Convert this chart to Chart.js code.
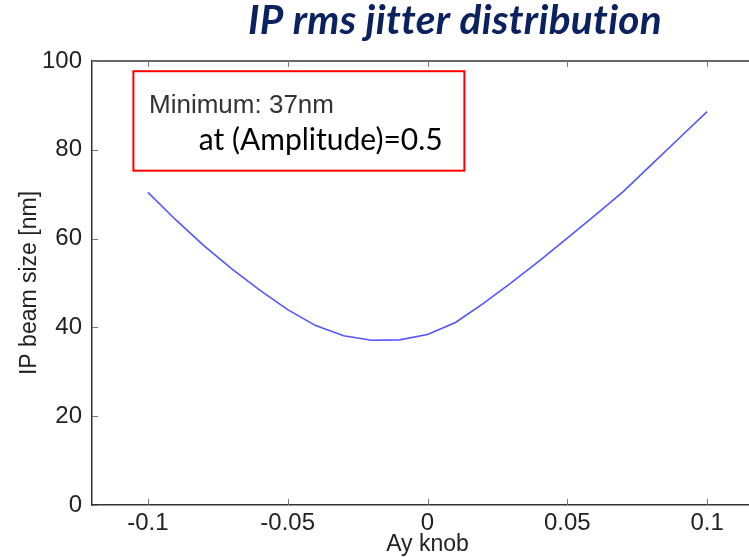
<!DOCTYPE html>
<html>
<head>
<meta charset="utf-8">
<script src="https://cdn.jsdelivr.net/npm/chart.js@4"></script>
<style>
  html, body { margin: 0; padding: 0; background: #fff; overflow: hidden; }
  canvas { display: block; }
</style>
</head>
<body>
<canvas id="jitterChart" width="770" height="557"></canvas>
<script>
// Ay knob setting -> IP beam size scan
const knobValues = [-0.10, -0.09, -0.08, -0.07, -0.06, -0.05, -0.04, -0.03, -0.02, -0.01,
                    0.00, 0.01, 0.02, 0.03, 0.04, 0.05, 0.06, 0.07, 0.08, 0.09, 0.10];
const beamSize = [70.4, 64.2, 58.4, 53.2, 48.4, 44.0, 40.4, 38.1, 37.1, 37.2,
                  38.4, 41.1, 45.4, 50.1, 55.0, 60.1, 65.3, 70.6, 76.6, 82.6, 88.6];

const xTickValues = [-0.1, -0.05, 0, 0.05, 0.1];
const xTickLabels = ['-0.1', '-0.05', '0', '0.05', '0.1'];
const yTickValues = [0, 20, 40, 60, 80, 100];

const chartTitle = 'IP rms jitter distribution';
const noteLines = ['Minimum: 37nm', 'at (Amplitude)=0.5'];

const tickFont = { family: '"Liberation Sans", Arial, sans-serif', size: 24, lineHeight: 1 };
const labelFont = { family: '"Liberation Sans", Arial, sans-serif', size: 23 };

// frame, inward ticks, title and the note box
const framePlugin = {
  id: 'frame',
  afterDraw(chart) {
    const ctx = chart.ctx;
    const area = chart.chartArea;
    const x = chart.scales.x;
    const y = chart.scales.y;
    ctx.save();

    // top edge of the axes box
    ctx.strokeStyle = '#333';
    ctx.lineWidth = 1.5;
    ctx.beginPath();
    ctx.moveTo(area.left, area.top);
    ctx.lineTo(area.right, area.top);
    ctx.stroke();

    // tick marks pointing into the plot
    ctx.strokeStyle = '#777';
    ctx.lineWidth = 1;
    ctx.beginPath();
    xTickValues.forEach(v => {
      const px = Math.round(x.getPixelForValue(v)) + 0.5;
      ctx.moveTo(px, area.bottom);
      ctx.lineTo(px, area.bottom - 6);
      ctx.moveTo(px, area.top);
      ctx.lineTo(px, area.top + 6);
    });
    yTickValues.forEach(v => {
      const py = Math.round(y.getPixelForValue(v)) + 0.5;
      ctx.moveTo(area.left, py);
      ctx.lineTo(area.left + 6, py);
    });
    ctx.stroke();

    // red note box
    const bx0 = x.getPixelForValue(-0.1052);
    const bx1 = x.getPixelForValue(0.0132);
    const by0 = y.getPixelForValue(97.7);
    const by1 = y.getPixelForValue(75.3);
    ctx.strokeStyle = '#ff0000';
    ctx.lineWidth = 2;
    ctx.strokeRect(bx0, by0, bx1 - bx0, by1 - by0);

    ctx.textAlign = 'left';
    ctx.textBaseline = 'alphabetic';
    ctx.fillStyle = '#333';
    ctx.font = '26px "Liberation Sans", Arial, sans-serif';
    ctx.fillText(noteLines[0], x.getPixelForValue(-0.0996), y.getPixelForValue(88.3));
    ctx.fillStyle = '#000';
    ctx.font = '30px Lato, sans-serif';
    ctx.fillText(noteLines[1], x.getPixelForValue(-0.0818), y.getPixelForValue(80.0));

    // title (small letter spacing keeps the plain "ti" glyphs)
    ctx.fillStyle = '#0b2160';
    ctx.font = 'italic 700 40.5px Lato, sans-serif';
    ctx.letterSpacing = '0.3px';
    ctx.textAlign = 'center';
    ctx.fillText(chartTitle, 455, 34);

    ctx.restore();
  }
};

new Chart(document.getElementById('jitterChart'), {
  type: 'line',
  data: {
    datasets: [{
      data: knobValues.map((k, i) => ({ x: k, y: beamSize[i] })),
      borderColor: 'rgb(85, 85, 255)',
      borderWidth: 1.6,
      pointRadius: 0,
      tension: 0,
      fill: false
    }]
  },
  options: {
    responsive: false,
    animation: false,
    layout: { padding: { top: 61, right: 7, left: 0, bottom: 0 } },
    plugins: { legend: { display: false }, tooltip: { enabled: false } },
    scales: {
      x: {
        type: 'linear',
        min: -0.12,
        max: 0.12,
        afterBuildTicks: s => { s.ticks = xTickValues.map(v => ({ value: v })); },
        afterFit: s => { s.height = 52; },
        ticks: {
          autoSkip: false,
          maxRotation: 0,
          padding: -2,
          color: '#222',
          font: tickFont,
          callback: v => xTickLabels[xTickValues.indexOf(v)]
        },
        grid: { display: false },
        border: { display: true, color: '#333', width: 1.5 },
        title: { display: true, text: 'Ay knob', color: '#222', font: labelFont, padding: { top: 0, bottom: -1 } }
      },
      y: {
        min: 0,
        max: 100,
        afterBuildTicks: s => { s.ticks = yTickValues.map(v => ({ value: v })); },
        afterFit: s => { s.width = 92; },
        ticks: { padding: 2, color: '#222', font: tickFont },
        grid: { display: false },
        border: { display: true, color: '#333', width: 1.5 },
        title: { display: true, text: 'IP beam size [nm]', color: '#222', font: labelFont, padding: { top: 16, bottom: 0 } }
      }
    }
  },
  plugins: [framePlugin]
});
</script>
</body>
</html>
